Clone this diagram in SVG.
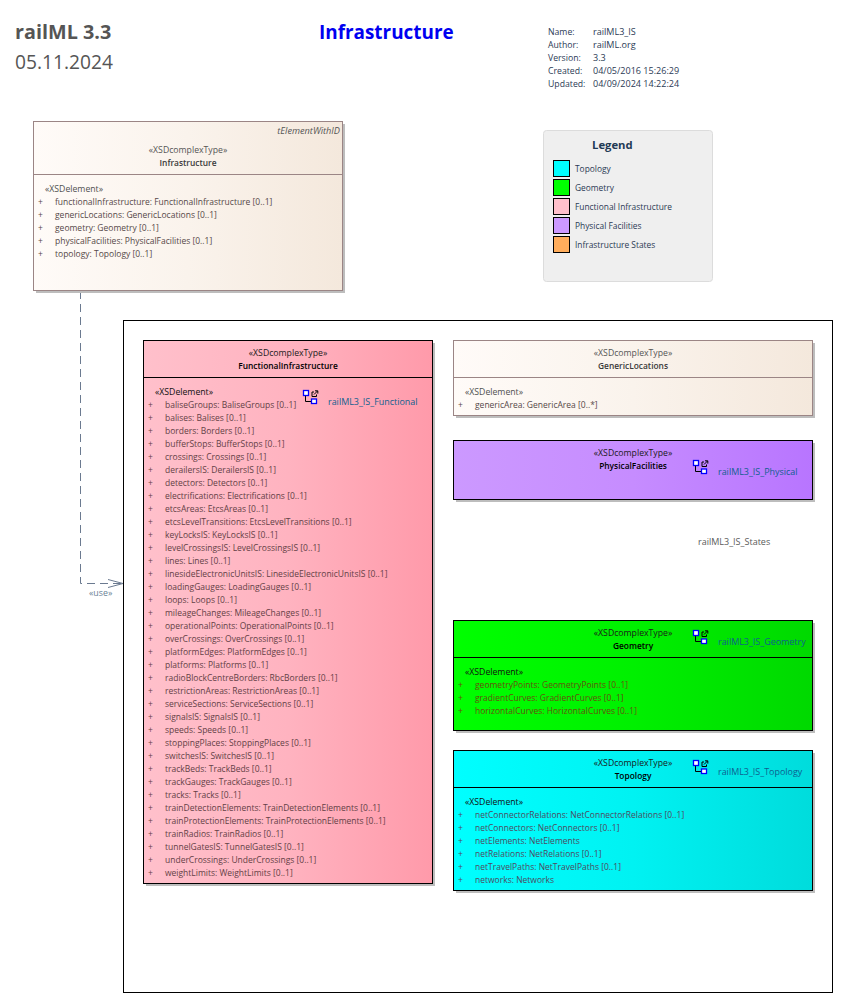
<svg xmlns="http://www.w3.org/2000/svg" width="858" height="1003" viewBox="0 0 858 1003">
<style>
text{font-family:"Open Sans","Noto Sans","Liberation Sans",sans-serif;font-size:8.5px;fill:#4f4f4f}
.s{text-anchor:middle;fill:#555;font-size:8.7px}
.n{text-anchor:middle;font-weight:600;font-size:8.4px;fill:#3a3a3a}
.e{fill:#505050;font-size:8.7px}
.i{fill:#564848}
.k{fill:#111;font-size:8.7px}
.kb{text-anchor:middle;font-weight:600;font-size:8.4px;fill:#000}
.ks{text-anchor:middle;fill:#1a1a1a;font-size:8.7px}
.p{fill:#643f46}
.g{fill:#65500f}
.t{fill:#4e4a60}
.l{fill:#0f5f8f;font-size:8.95px}
.m{fill:#2b3a55;font-size:8.7px}
.v{fill:#2b3a55;font-size:9.05px}
.lg{fill:#2b3a55;font-size:8.4px}
.shadow{fill:#bdbdbd}
.b{stroke:#000;stroke-width:1}
.w{stroke:#9b8585;stroke-width:1}
.sw{stroke:#000;stroke-width:1}
</style>
<defs>
<linearGradient id="gw"><stop offset="0" stop-color="#fffbf8"/><stop offset="0.5" stop-color="#faf3ec"/><stop offset="1" stop-color="#f4e8dc"/></linearGradient>
<linearGradient id="gp"><stop offset="0" stop-color="#ffc0cb"/><stop offset="0.5" stop-color="#ffb3c0"/><stop offset="1" stop-color="#ff9aaa"/></linearGradient>
<linearGradient id="gv"><stop offset="0" stop-color="#cc99ff"/><stop offset="0.5" stop-color="#c68cff"/><stop offset="1" stop-color="#b875ff"/></linearGradient>
<linearGradient id="gg"><stop offset="0" stop-color="#00ff00"/><stop offset="0.5" stop-color="#00f000"/><stop offset="1" stop-color="#00d900"/></linearGradient>
<linearGradient id="gc"><stop offset="0" stop-color="#00ffff"/><stop offset="0.5" stop-color="#00f2f2"/><stop offset="1" stop-color="#00dcdc"/></linearGradient>
<marker id="open" markerWidth="16" markerHeight="10" refX="15" refY="5" orient="auto" markerUnits="userSpaceOnUse"><path d="M0 1L15 5L0 9" fill="none" stroke="#6b7a90" stroke-width="1"/></marker>
<g id="ico">
<path d="M2.500 5V11.500H9" fill="none" stroke="#000" stroke-width="1"/>
<rect x="0.500" y="0.500" width="5" height="5" fill="#fff" stroke="#00f" stroke-width="1.300"/>
<rect x="8.500" y="9" width="5" height="4.500" fill="#fff" stroke="#00f" stroke-width="1.300"/>
<path d="M11 2H9V6.500H13.500V4.500M11 4.500L14.500 1M12 0.800H14.800V3.600" fill="none" stroke="#000" stroke-width="1"/>
</g>
</defs>
<rect width="858" height="1003" fill="#fff"/>

<g id="titles">
<text x="15" y="39" style="font-size:19.800px;font-weight:700;fill:#555">railML 3.3</text>
<text x="15" y="69" style="font-size:19.200px;fill:#555">05.11.2024</text>
<text x="319" y="39" style="font-size:18.900px;font-weight:700;fill:#0000f0">Infrastructure</text>
</g>

<g id="meta">
<text class="m" x="548" y="35">Name:</text><text class="v" x="593" y="35">railML3_IS</text>
<text class="m" x="548" y="48">Author:</text><text class="v" x="593" y="48">railML.org</text>
<text class="m" x="548" y="61">Version:</text><text class="v" x="593" y="61">3.3</text>
<text class="m" x="548" y="74">Created:</text><text class="v" x="593" y="74">04/05/2016 15:26:29</text>
<text class="m" x="548" y="87">Updated:</text><text class="v" x="593" y="87">04/09/2024 14:22:24</text>
</g>

<g id="legend">
<rect x="543.500" y="130.500" width="169" height="151" rx="3" fill="#efefef" stroke="#dcdcdc"/>
<text x="592" y="149" style="font-size:11.300px;font-weight:700;fill:#1f3a55">Legend</text>
<rect class="sw" x="553.500" y="160.500" width="16" height="16" fill="#00ffff"/><text class="lg" x="575" y="172">Topology</text>
<rect class="sw" x="553.500" y="179.500" width="16" height="16" fill="#00ff00"/><text class="lg" x="575" y="191">Geometry</text>
<rect class="sw" x="553.500" y="198.500" width="16" height="16" fill="#ffc0cb"/><text class="lg" x="575" y="210">Functional Infrastructure</text>
<rect class="sw" x="553.500" y="217.500" width="16" height="16" fill="#cc99ff"/><text class="lg" x="575" y="229">Physical Facilities</text>
<rect class="sw" x="553.500" y="236.500" width="16" height="16" fill="#ffad5c"/><text class="lg" x="575" y="248">Infrastructure States</text>
</g>

<g id="package-frame">
<rect x="123.500" y="320.500" width="709" height="672" fill="#fff" stroke="#000"/>
</g>

<g id="connectors">
<path d="M80.500 291V583.500H123" fill="none" stroke="#6b7a90" stroke-width="1" stroke-dasharray="8 5" marker-end="url(#open)"/>
<text x="89" y="596" style="fill:#6a7f96;font-size:8.800px">«use»</text>
</g>

<g id="node-infrastructure">
<rect class="shadow" x="36" y="124" width="309" height="169"/>
<rect class="w" x="33.500" y="121.500" width="309" height="169" fill="url(#gw)"/>
<path class="w" d="M33.500 174.500H342.500"/>
<text x="340" y="134" style="font-style:italic;font-size:9.200px;text-anchor:end;fill:#555">tElementWithID</text>
<text class="s" x="188" y="153">«XSDcomplexType»</text>
<text class="n" x="188" y="166">Infrastructure</text>
<text class="e" x="45" y="192">«XSDelement»</text>
<text class="i" x="38" y="205">+</text><text class="i" x="55" y="205">functionalInfrastructure: FunctionalInfrastructure [0..1]</text>
<text class="i" x="38" y="218">+</text><text class="i" x="55" y="218">genericLocations: GenericLocations [0..1]</text>
<text class="i" x="38" y="231">+</text><text class="i" x="55" y="231">geometry: Geometry [0..1]</text>
<text class="i" x="38" y="244">+</text><text class="i" x="55" y="244">physicalFacilities: PhysicalFacilities [0..1]</text>
<text class="i" x="38" y="257">+</text><text class="i" x="55" y="257">topology: Topology [0..1]</text>
</g>

<g id="node-functional">
<rect class="shadow" x="146" y="343" width="289" height="543"/>
<rect class="b" x="143.500" y="340.500" width="289" height="543" fill="url(#gp)"/>
<path class="b" d="M143.500 377.500H432.500"/>
<text class="ks" x="288" y="356">«XSDcomplexType»</text>
<text class="kb" x="288" y="369">FunctionalInfrastructure</text>
<text class="k" x="155" y="395">«XSDelement»</text>
<use href="#ico" x="303" y="390"/>
<text class="l" x="328" y="405">railML3_IS_Functional</text>
<text class="p" x="148" y="408">+</text><text class="p" x="165" y="408">baliseGroups: BaliseGroups [0..1]</text>
<text class="p" x="148" y="421">+</text><text class="p" x="165" y="421">balises: Balises [0..1]</text>
<text class="p" x="148" y="434">+</text><text class="p" x="165" y="434">borders: Borders [0..1]</text>
<text class="p" x="148" y="447">+</text><text class="p" x="165" y="447">bufferStops: BufferStops [0..1]</text>
<text class="p" x="148" y="460">+</text><text class="p" x="165" y="460">crossings: Crossings [0..1]</text>
<text class="p" x="148" y="473">+</text><text class="p" x="165" y="473">derailersIS: DerailersIS [0..1]</text>
<text class="p" x="148" y="486">+</text><text class="p" x="165" y="486">detectors: Detectors [0..1]</text>
<text class="p" x="148" y="499">+</text><text class="p" x="165" y="499">electrifications: Electrifications [0..1]</text>
<text class="p" x="148" y="512">+</text><text class="p" x="165" y="512">etcsAreas: EtcsAreas [0..1]</text>
<text class="p" x="148" y="525">+</text><text class="p" x="165" y="525">etcsLevelTransitions: EtcsLevelTransitions [0..1]</text>
<text class="p" x="148" y="538">+</text><text class="p" x="165" y="538">keyLocksIS: KeyLocksIS [0..1]</text>
<text class="p" x="148" y="551">+</text><text class="p" x="165" y="551">levelCrossingsIS: LevelCrossingsIS [0..1]</text>
<text class="p" x="148" y="564">+</text><text class="p" x="165" y="564">lines: Lines [0..1]</text>
<text class="p" x="148" y="577">+</text><text class="p" x="165" y="577">linesideElectronicUnitsIS: LinesideElectronicUnitsIS [0..1]</text>
<text class="p" x="148" y="590">+</text><text class="p" x="165" y="590">loadingGauges: LoadingGauges [0..1]</text>
<text class="p" x="148" y="603">+</text><text class="p" x="165" y="603">loops: Loops [0..1]</text>
<text class="p" x="148" y="616">+</text><text class="p" x="165" y="616">mileageChanges: MileageChanges [0..1]</text>
<text class="p" x="148" y="629">+</text><text class="p" x="165" y="629">operationalPoints: OperationalPoints [0..1]</text>
<text class="p" x="148" y="642">+</text><text class="p" x="165" y="642">overCrossings: OverCrossings [0..1]</text>
<text class="p" x="148" y="655">+</text><text class="p" x="165" y="655">platformEdges: PlatformEdges [0..1]</text>
<text class="p" x="148" y="668">+</text><text class="p" x="165" y="668">platforms: Platforms [0..1]</text>
<text class="p" x="148" y="681">+</text><text class="p" x="165" y="681">radioBlockCentreBorders: RbcBorders [0..1]</text>
<text class="p" x="148" y="694">+</text><text class="p" x="165" y="694">restrictionAreas: RestrictionAreas [0..1]</text>
<text class="p" x="148" y="707">+</text><text class="p" x="165" y="707">serviceSections: ServiceSections [0..1]</text>
<text class="p" x="148" y="720">+</text><text class="p" x="165" y="720">signalsIS: SignalsIS [0..1]</text>
<text class="p" x="148" y="733">+</text><text class="p" x="165" y="733">speeds: Speeds [0..1]</text>
<text class="p" x="148" y="746">+</text><text class="p" x="165" y="746">stoppingPlaces: StoppingPlaces [0..1]</text>
<text class="p" x="148" y="759">+</text><text class="p" x="165" y="759">switchesIS: SwitchesIS [0..1]</text>
<text class="p" x="148" y="772">+</text><text class="p" x="165" y="772">trackBeds: TrackBeds [0..1]</text>
<text class="p" x="148" y="785">+</text><text class="p" x="165" y="785">trackGauges: TrackGauges [0..1]</text>
<text class="p" x="148" y="798">+</text><text class="p" x="165" y="798">tracks: Tracks [0..1]</text>
<text class="p" x="148" y="811">+</text><text class="p" x="165" y="811">trainDetectionElements: TrainDetectionElements [0..1]</text>
<text class="p" x="148" y="824">+</text><text class="p" x="165" y="824">trainProtectionElements: TrainProtectionElements [0..1]</text>
<text class="p" x="148" y="837">+</text><text class="p" x="165" y="837">trainRadios: TrainRadios [0..1]</text>
<text class="p" x="148" y="850">+</text><text class="p" x="165" y="850">tunnelGatesIS: TunnelGatesIS [0..1]</text>
<text class="p" x="148" y="863">+</text><text class="p" x="165" y="863">underCrossings: UnderCrossings [0..1]</text>
<text class="p" x="148" y="876">+</text><text class="p" x="165" y="876">weightLimits: WeightLimits [0..1]</text>
</g>

<g id="node-generic">
<rect class="shadow" x="456" y="343" width="359" height="75"/>
<rect class="w" x="453.500" y="340.500" width="359" height="75" fill="url(#gw)"/>
<path class="w" d="M453.500 377.500H812.500"/>
<text class="s" x="633" y="356">«XSDcomplexType»</text>
<text class="n" x="633" y="369">GenericLocations</text>
<text class="e" x="465" y="395">«XSDelement»</text>
<text class="i" x="458" y="408">+</text><text class="i" x="475" y="408">genericArea: GenericArea [0..*]</text>
</g>

<g id="node-physical">
<rect class="shadow" x="456" y="443" width="359" height="59"/>
<rect class="b" x="453.500" y="440.500" width="359" height="59" fill="url(#gv)"/>
<text class="ks" x="633" y="456">«XSDcomplexType»</text>
<text class="kb" x="633" y="469">PhysicalFacilities</text>
<use href="#ico" x="693" y="460"/>
<text class="l" x="718" y="475">railML3_IS_Physical</text>
</g>

<g id="label-states">
<text x="698" y="545" style="fill:#5a5a5a;font-size:9px">railML3_IS_States</text>
</g>

<g id="node-geometry">
<rect class="shadow" x="456" y="623" width="359" height="110"/>
<rect class="b" x="453.500" y="620.500" width="359" height="110" fill="url(#gg)"/>
<path class="b" d="M453.500 657.500H812.500"/>
<text class="ks" x="633" y="636">«XSDcomplexType»</text>
<text class="kb" x="633" y="649">Geometry</text>
<use href="#ico" x="693" y="630"/>
<text class="l" x="718" y="645">railML3_IS_Geometry</text>
<text class="k" x="465" y="675">«XSDelement»</text>
<text class="g" x="458" y="688">+</text><text class="g" x="475" y="688">geometryPoints: GeometryPoints [0..1]</text>
<text class="g" x="458" y="701">+</text><text class="g" x="475" y="701">gradientCurves: GradientCurves [0..1]</text>
<text class="g" x="458" y="714">+</text><text class="g" x="475" y="714">horizontalCurves: HorizontalCurves [0..1]</text>
</g>

<g id="node-topology">
<rect class="shadow" x="456" y="753" width="359" height="140"/>
<rect class="b" x="453.500" y="750.500" width="359" height="140" fill="url(#gc)"/>
<path class="b" d="M453.500 787.500H812.500"/>
<text class="ks" x="633" y="766">«XSDcomplexType»</text>
<text class="kb" x="633" y="779">Topology</text>
<use href="#ico" x="693" y="760"/>
<text class="l" x="718" y="775">railML3_IS_Topology</text>
<text class="k" x="465" y="805">«XSDelement»</text>
<text class="t" x="458" y="818">+</text><text class="t" x="475" y="818">netConnectorRelations: NetConnectorRelations [0..1]</text>
<text class="t" x="458" y="831">+</text><text class="t" x="475" y="831">netConnectors: NetConnectors [0..1]</text>
<text class="t" x="458" y="844">+</text><text class="t" x="475" y="844">netElements: NetElements</text>
<text class="t" x="458" y="857">+</text><text class="t" x="475" y="857">netRelations: NetRelations [0..1]</text>
<text class="t" x="458" y="870">+</text><text class="t" x="475" y="870">netTravelPaths: NetTravelPaths [0..1]</text>
<text class="t" x="458" y="883">+</text><text class="t" x="475" y="883">networks: Networks</text>
</g>
</svg>
